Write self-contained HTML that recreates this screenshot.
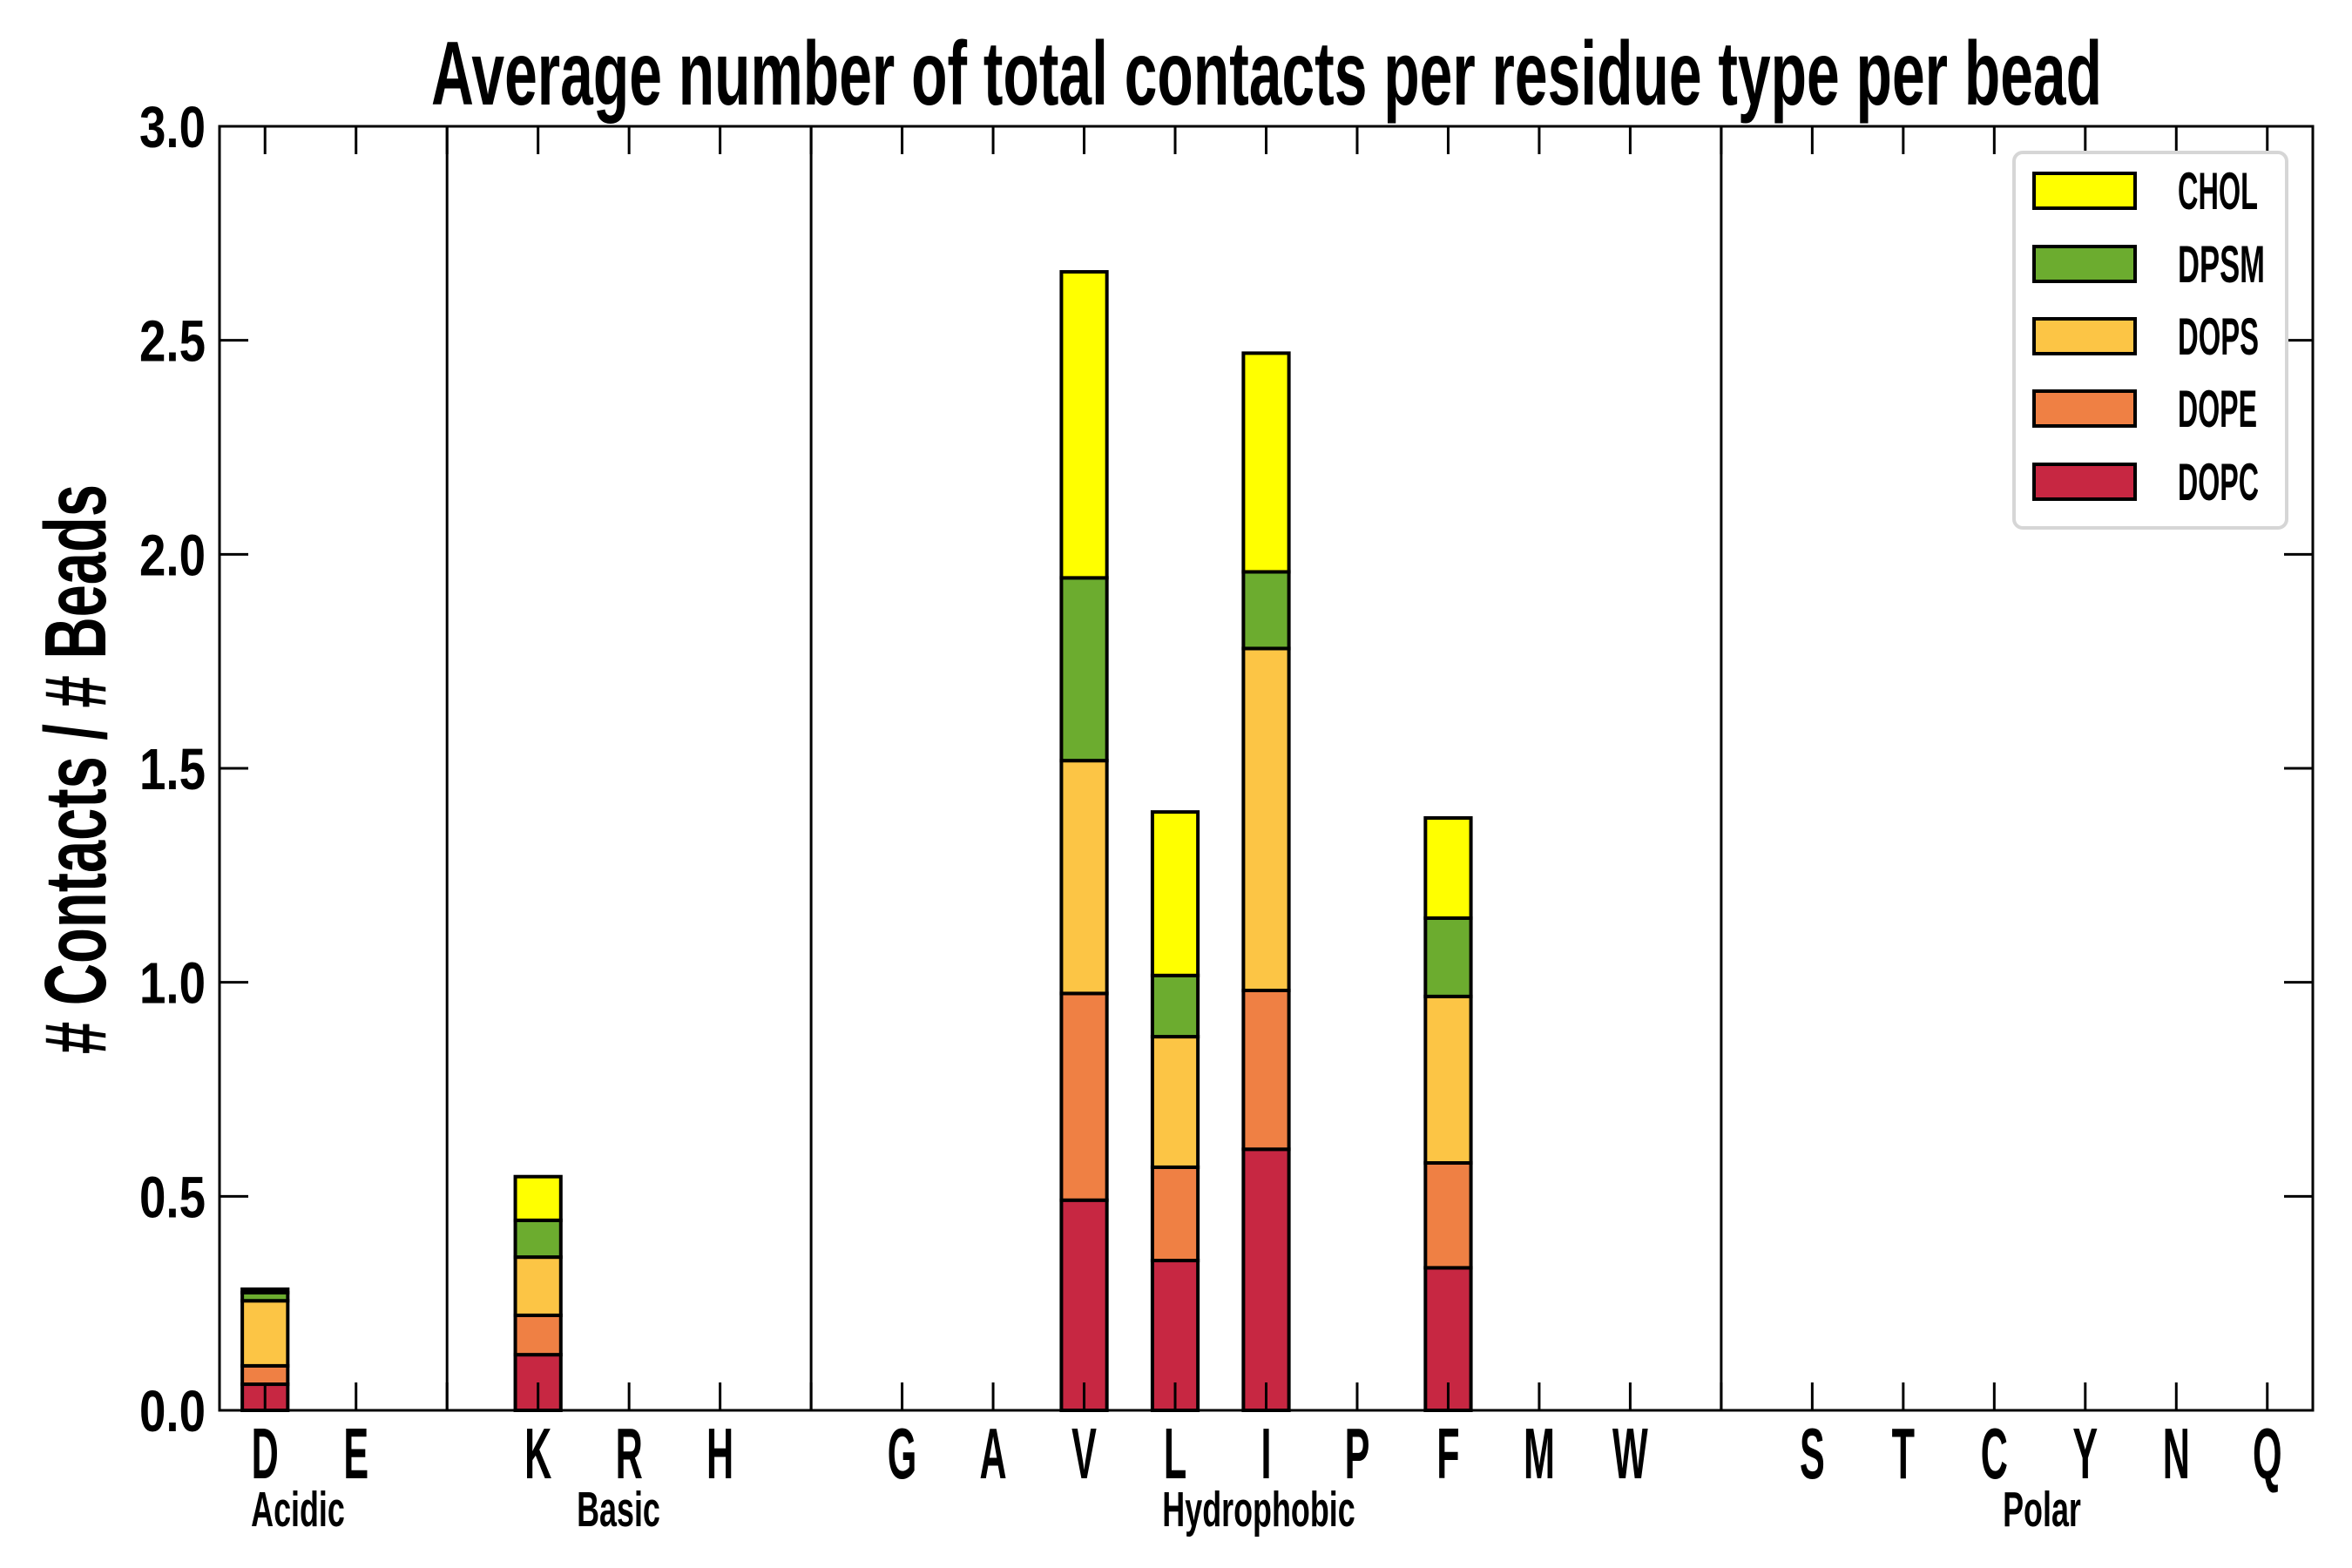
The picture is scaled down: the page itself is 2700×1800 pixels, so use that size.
<!DOCTYPE html>
<html><head><meta charset="utf-8"><style>
html,body{margin:0;padding:0;background:#fff;}
svg{display:block;}
text{font-family:"Liberation Sans Narrow","Liberation Sans",sans-serif;font-weight:bold;fill:#000;}
</style></head><body>
<svg id="chart" width="2700" height="1800" viewBox="0 0 2700 1800" xmlns="http://www.w3.org/2000/svg">
<text x="495" y="120" font-size="104" textLength="1918" lengthAdjust="spacingAndGlyphs">Average number of total contacts per residue type per bead</text>
<text transform="translate(121,883) rotate(-90)" text-anchor="middle" font-size="100" textLength="654" lengthAdjust="spacingAndGlyphs"># Contacts / # Beads</text>
<g id="plot"></g>
</svg>
<script>
const categories = ["D","E","","K","R","H","","G","A","V","L","I","P","F","M","W","","S","T","C","Y","N","Q"];
const seriesNames = ["DOPC","DOPE","DOPS","DPSM","CHOL"];
const seriesColors = ["#c72742","#ef8044","#fcc545","#6cac2f","#ffff00"];
const DOPC = [0.061,0,0,0.130,0,0,0,0,0,0.491,0.350,0.610,0,0.333,0,0,0,0,0,0,0,0,0];
const DOPE = [0.043,0,0,0.092,0,0,0,0,0,0.483,0.218,0.371,0,0.245,0,0,0,0,0,0,0,0,0];
const DOPS = [0.152,0,0,0.136,0,0,0,0,0,0.544,0.305,0.799,0,0.389,0,0,0,0,0,0,0,0,0];
const DPSM = [0.019,0,0,0.086,0,0,0,0,0,0.427,0.143,0.179,0,0.183,0,0,0,0,0,0,0,0,0];
const CHOL = [0.008,0,0,0.102,0,0,0,0,0,0.715,0.382,0.511,0,0.234,0,0,0,0,0,0,0,0,0];
const yTicks = [0,0.5,1.0,1.5,2.0,2.5,3.0];
const yTickLabels = ["0.0","0.5","1.0","1.5","2.0","2.5","3.0"];
const separators = [2,6,16];
const groupNames = ["Acidic","Basic","Hydrophobic","Polar"];
const groupCenters = [342,710,1445,2344];

const L=252,R=2655,T=145,B=1619;
const xmin=-0.5,xmax=22.5,ymin=0,ymax=3;
const xs=v=>L+(v-xmin)/(xmax-xmin)*(R-L);
const ys=v=>B-(v-ymin)/(ymax-ymin)*(B-T);
const NS="http://www.w3.org/2000/svg";
const g=document.getElementById('plot');
function mk(tag,attrs,parent){const e=document.createElementNS(NS,tag);for(const k in attrs)e.setAttribute(k,attrs[k]);(parent||g).appendChild(e);return e;}
const series=[DOPC,DOPE,DOPS,DPSM,CHOL];
const bw=0.5;
categories.forEach((c,i)=>{
  let base=0;
  series.forEach((s,k)=>{
    const v=s[i];
    const x0=xs(i-bw/2),x1=xs(i+bw/2);
    const y0=ys(base),y1=ys(base+v);
    const r=mk('rect',{x:x0,y:y1,width:x1-x0,height:Math.max(0,y0-y1),fill:seriesColors[k],stroke:'#000','stroke-width':4});
    
    
    base+=v;
  });
});
separators.forEach(s=>{
  const l=mk('line',{x1:xs(s),x2:xs(s),y1:T,y2:B,stroke:'#000','stroke-width':3});
  
  
});
categories.forEach((c,i)=>{
  const x=xs(i);
  mk('line',{x1:x,x2:x,y1:B,y2:B-32,stroke:'#000','stroke-width':3});
  mk('line',{x1:x,x2:x,y1:T,y2:T+32,stroke:'#000','stroke-width':3});
  if(c){
    const t=mk('text',{transform:'translate('+x+',1697) scale(0.52,1)','text-anchor':'middle','font-size':83});
    t.textContent=c;
    
    
  }
});
yTicks.forEach((v,i)=>{
  const y=ys(v);
  mk('line',{x1:L,x2:L+33,y1:y,y2:y,stroke:'#000','stroke-width':3});
  mk('line',{x1:R,x2:R-33,y1:y,y2:y,stroke:'#000','stroke-width':3});
  const t=mk('text',{x:236,y:y+24,'text-anchor':'end','font-size':67,textLength:76,lengthAdjust:'spacingAndGlyphs'});
  t.textContent=yTickLabels[i];
  
  
});
groupNames.forEach((n,i)=>{
  const t=mk('text',{transform:'translate('+groupCenters[i]+',1752) scale(0.63,1)','text-anchor':'middle','font-size':57});
  t.textContent=n;
  
  
});
const fr=mk('rect',{x:L,y:T,width:R-L,height:B-T,fill:'none',stroke:'#000','stroke-width':3});


const lg=mk('g',{});


mk('rect',{x:2312,y:175,width:313,height:431,rx:10,fill:'#fff',stroke:'#d6d6d6','stroke-width':4},lg);
const rows=[219,303,386,469,553];
const legendWidths=[93,91,93,100,92];
for(let k=4;k>=0;k--){
  const y=rows[4-k];
  const e=mk('g',{},lg);
  
  
  mk('rect',{x:2335,y:y-20,width:116,height:40,fill:seriesColors[k],stroke:'#000','stroke-width':4},e);
  const t=mk('text',{x:2500,y:y+21,'font-size':60,textLength:legendWidths[k],lengthAdjust:'spacingAndGlyphs'},e);
  t.textContent=seriesNames[k];
}
</script>
</body></html>
